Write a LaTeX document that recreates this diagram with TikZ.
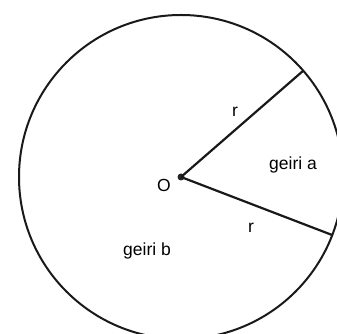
\documentclass[tikz,border=0pt]{standalone}
\usepackage{fontspec}
\setmainfont{Liberation Sans}
\usetikzlibrary{calc}

\begin{document}
\begin{tikzpicture}[
    x=1pt, y=1pt,
    rim/.style={line width=2pt, color=black!90},
    radius line/.style={line width=2.2pt, color=black!90},
    lbl/.style={font=\fontsize{17.5}{20}\selectfont, inner sep=0pt},
    centre/.style={circle, fill=black!85, inner sep=0pt, minimum size=7pt}
]
\useasboundingbox (0,0) rectangle (337,334);
\node[centre] (O) at (181,157) {};
\coordinate (A) at ($(O)+(41:162)$);
\coordinate (B) at ($(O)+(-21:162)$);

\draw[rim] (O) circle (162);
\draw[radius line] (O.center) -- (A);
\draw[radius line] (O.center) -- (B);

\node[lbl] (olabel) at (164,149) {O};
\node[lbl] (r1) at (235,222) {r};
\node[lbl] (r2) at (251,106) {r};
\node[lbl] (ga) at (293,169) {geiri a};
\node[lbl] (gb) at (147,83) {geiri b};
\end{tikzpicture}
\end{document}
